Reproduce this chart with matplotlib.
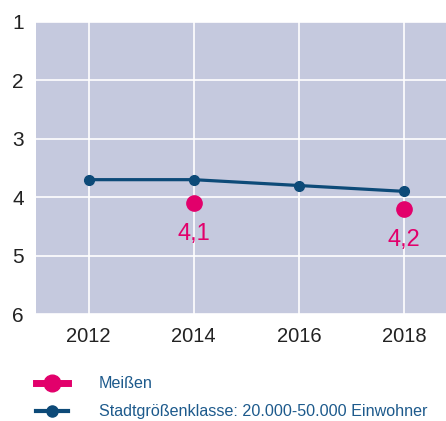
import matplotlib
matplotlib.use("Agg")
import matplotlib.pyplot as plt
from matplotlib.lines import Line2D

plt.rcParams['font.family'] = ['Liberation Sans', 'DejaVu Sans']

# data
years = [2012, 2014, 2016, 2018]
klasse_values = [3.7, 3.7, 3.8, 3.9]
meissen_years = [2014, 2018]
meissen_values = [4.1, 4.2]
meissen_labels = ["4,1", "4,2"]
y_ticks = [1, 2, 3, 4, 5, 6]

blue = '#0d4a78'
pink = '#e2006b'
bg = '#c5c9de'

fig = plt.figure(figsize=(4.46, 4.21), dpi=100)
ax = fig.add_axes([0.081, 0.254, 0.919, 0.694])
ax.set_facecolor(bg)

ax.plot(years, klasse_values, color=blue, lw=2.3, marker='o', ms=7, zorder=3)
ax.plot(meissen_years, meissen_values, ls='none', marker='o', color=pink, ms=11, zorder=4)
for x, y, t in zip(meissen_years, meissen_values, meissen_labels):
    ax.text(x, y + 0.53, t, color=pink, fontsize=17, ha='center', va='center')

ax.set_xlim(2011.0, 2018.8)
ax.set_ylim(6, 1)
ax.set_xticks(years)
ax.set_yticks(y_ticks)
ax.grid(True, color='white', lw=1.2)
ax.set_axisbelow(True)
for s in ax.spines.values():
    s.set_visible(False)
ax.tick_params(length=0, labelsize=14.5, colors='#222222', pad=9)
ax.tick_params(axis='y', labelsize=15, pad=9)

handles = [
    Line2D([], [], color=pink, lw=5, marker='o', ms=12),
    Line2D([], [], color=blue, lw=3, marker='o', ms=8),
]
labels = ["Meißen", "Stadtgrößenklasse: 20.000-50.000 Einwohner"]
leg = fig.legend(handles, labels, loc='upper left', bbox_to_anchor=(0.081, 0.106),
                 frameon=False, fontsize=11.6, handlelength=2.0, handletextpad=1.9,
                 labelspacing=0.8, borderaxespad=0, borderpad=0)
for t in leg.get_texts():
    t.set_color('#1d5a8c')

fig.savefig('out.png', dpi=100)
